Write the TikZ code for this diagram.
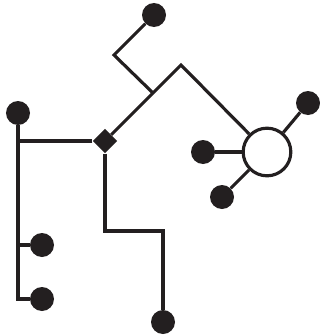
\documentclass[tikz,border=0pt]{standalone}
\usetikzlibrary{shapes.geometric}
\definecolor{ink}{HTML}{231F20}
\tikzset{
  leaf/.style={circle, fill=ink, inner sep=0pt, minimum size=0.72cm},
  hub/.style={circle, draw=ink, fill=white, line width=2.7pt, inner sep=0pt, minimum size=1.43cm},
  junction/.style={diamond, fill=ink, inner sep=0pt, minimum size=0.74cm},
  wire/.style={draw=ink, line width=2.7pt, line cap=butt, line join=miter}
}

\begin{document}
\begin{tikzpicture}[x=0.03cm, y=-0.03cm]
  \useasboundingbox (0,0) rectangle (320,336);
  % nodes
  \node[junction] (jn) at (105,141) {};
  \node[hub] (hub) at (267,152) {};
  \node[leaf] (top) at (154,15) {};
  \node[leaf] (left) at (18,113) {};
  \node[leaf] (midleaf) at (42,245) {};
  \node[leaf] (lowleaf) at (42,299) {};
  \node[leaf] (bottom) at (163,322) {};
  \node[leaf] (satne) at (308,103) {};
  \node[leaf] (satw) at (203,152) {};
  \node[leaf] (satsw) at (222,197) {};
  % bends
  \coordinate (fork) at (153,93);
  \coordinate (elbow) at (114,55);
  \coordinate (peak) at (181,65);
  \coordinate (base) at (18,299);
  \coordinate (kink) at (163,231);
  % connectors
  \draw[wire] (jn) -- (peak) -- (hub);
  \draw[wire] (fork) -- (elbow) -- (top);
  \draw[wire] (jn) -- (jn -| left);
  \draw[wire] (left) -- (base) -- (lowleaf);
  \draw[wire] (midleaf) -- (midleaf -| left);
  \draw[wire] (jn) |- (kink) -- (bottom);
  \draw[wire] (hub) -- (satne);
  \draw[wire] (hub) -- (satw);
  \draw[wire] (hub) -- (satsw);
\end{tikzpicture}
\end{document}
